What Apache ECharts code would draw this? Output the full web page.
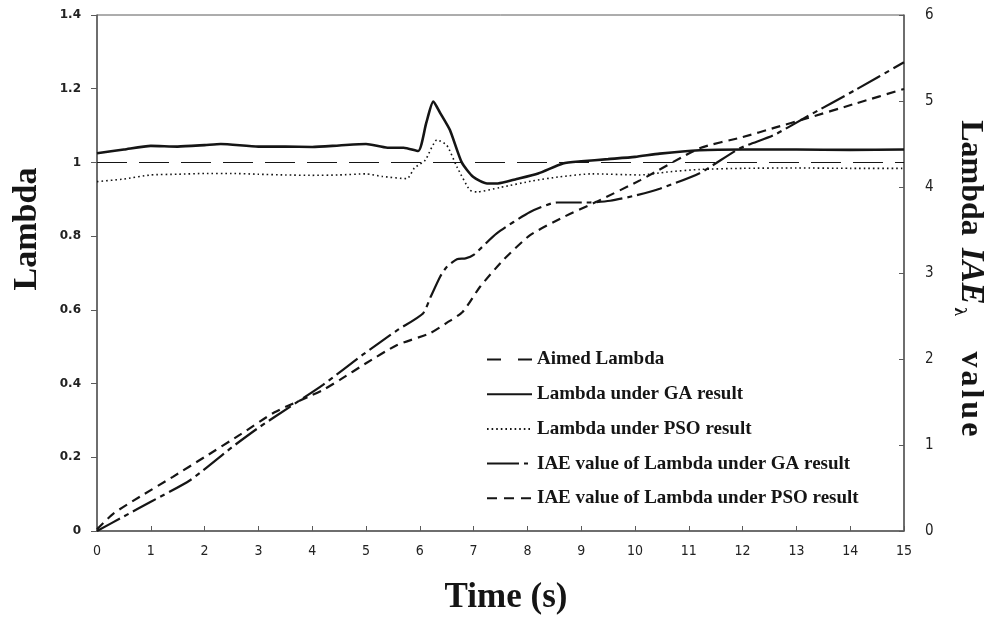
<!DOCTYPE html>
<html><head><meta charset="utf-8">
<script src="https://cdn.jsdelivr.net/npm/echarts@6/dist/echarts.min.js"></script>
<style>html,body{margin:0;padding:0;background:#fff}#c{width:996px;height:622px}</style>
</head><body><div id="c"></div>
<script>
// ---- data ----
var xTicks = [0,1,2,3,4,5,6,7,8,9,10,11,12,13,14,15];
var aimedT = [0, 15];
var aimedV = [1, 1];
var gaLamT = [0,0.5,1,1.5,2,2.3,3,3.5,4,4.5,5,5.4,5.7,5.97,6.12,6.25,6.38,6.56,6.78,6.99,7.25,7.45,7.8,8.2,8.66,9.0,9.5,10,10.46,11.2,12,13,14,15];
var gaLamV = [1.025,1.035,1.045,1.043,1.047,1.05,1.043,1.043,1.042,1.046,1.05,1.04,1.04,1.031,1.107,1.165,1.134,1.088,1.0,0.961,0.943,0.943,0.955,0.97,0.997,1.003,1.009,1.015,1.024,1.033,1.035,1.035,1.034,1.035];
var psoLamT = [0,0.5,1,1.5,2,2.5,3,3.5,4,4.5,5,5.3,5.76,5.9,6.1,6.32,6.5,6.69,6.93,7.06,7.49,8.1,8.6,9.2,10.1,10.6,11.2,12,13,14,15];
var psoLamV = [0.948,0.955,0.966,0.968,0.97,0.97,0.968,0.966,0.965,0.966,0.969,0.962,0.956,0.985,1.006,1.061,1.047,0.988,0.925,0.92,0.932,0.95,0.961,0.969,0.966,0.974,0.981,0.984,0.985,0.984,0.984];
var gaIaeT = [0,0.5,1,1.73,2.5,3.0,3.6,4.2,4.94,5.57,6.06,6.2,6.38,6.5,6.69,6.85,7.0,7.43,8.05,8.55,9.16,9.54,10.0,10.46,11.2,11.95,12.57,13.2,14.1,15];
var gaIaeV = [0,0.17,0.34,0.59,0.97,1.2,1.45,1.7,2.05,2.33,2.53,2.72,2.96,3.07,3.16,3.17,3.21,3.46,3.71,3.82,3.82,3.84,3.9,3.98,4.16,4.45,4.6,4.82,5.13,5.45];
var psoIaeT = [0,0.3,0.8,1.41,2.0,2.66,3.3,4.2,4.52,5.0,5.57,6.19,6.5,6.8,7.12,7.55,8.05,8.67,9.29,10.1,11.2,12.0,12.6,13.2,14.1,15];
var psoIaeV = [0.02,0.2,0.4,0.63,0.86,1.12,1.38,1.64,1.76,1.95,2.16,2.3,2.42,2.55,2.84,3.15,3.44,3.65,3.83,4.08,4.45,4.58,4.69,4.8,4.97,5.14];
var names = ['Aimed Lambda','Lambda under GA result','Lambda under PSO result','IAE value of Lambda under GA result','IAE value of Lambda under PSO result'];

function zip(t, v){ return t.map(function(x,i){ return [x, v[i]]; }); }

var chart = echarts.init(document.getElementById('c'));
var ink = '#151515';
var axisCol = '#5a5a5a';
var narrow = "'Liberation Sans Narrow','DejaVu Sans Condensed','Liberation Sans',sans-serif";
var serif = "'Liberation Serif','DejaVu Serif',serif";
var bigB = 'bold 32px ' + serif;
var bigI = 'italic bold 33px ' + serif;
chart.setOption({
  animation: false,
  backgroundColor: '#fff',
  grid: {left: 97, right: 92, top: 15, bottom: 91, show: true, borderColor: axisCol, borderWidth: 1},
  xAxis: {
    type: 'value', min: 0, max: 15, interval: 1,
    axisLine: {lineStyle: {color: axisCol, width: 1.5}},
    axisTick: {inside: true, length: 5, lineStyle: {color: axisCol}},
    axisLabel: {margin: 13, fontFamily: narrow, fontSize: 14, color: '#222'},
    splitLine: {show: false}
  },
  yAxis: [{
    type: 'value', min: 0, max: 1.4, interval: 0.2,
    axisLine: {show: true, lineStyle: {color: axisCol, width: 1.5}},
    axisTick: {show: true, length: 6, lineStyle: {color: axisCol}},
    axisLabel: {margin: 16, fontFamily: "'DejaVu Sans',sans-serif", fontSize: 12, fontWeight: 'bold', color: '#222',
      formatter: function(v){ return String(Math.round(v*10)/10); }},
    splitLine: {show: false}
  },{
    type: 'value', min: 0, max: 6, interval: 1, position: 'right',
    axisLine: {show: true, lineStyle: {color: axisCol, width: 1.5}},
    axisTick: {show: true, inside: true, length: 5, lineStyle: {color: axisCol}},
    axisLabel: {margin: 21, fontFamily: narrow, fontSize: 15, color: '#222'},
    splitLine: {show: false}
  }],
  legend: {
    orient: 'vertical', left: 486, top: 350, padding: 0, itemWidth: 45, itemHeight: 14, itemGap: 15.7,
    itemStyle: {opacity: 0, color: 'transparent', borderWidth: 0},
    textStyle: {fontFamily: serif, fontWeight: 'bold', fontSize: 19, color: ink},
    data: [
      {name: names[0], lineStyle: {type: [14, 17]}},
      {name: names[1]},
      {name: names[2]},
      {name: names[3], lineStyle: {type: [32, 5, 4, 5]}},
      {name: names[4], lineStyle: {type: [10, 7]}}
    ]
  },
  series: [
    {name: names[0], type: 'line', data: zip(aimedT, aimedV), showSymbol: false, symbol: 'none',
     lineStyle: {color: ink, width: 1.1, type: [30, 12]}, itemStyle: {color: ink}},
    {name: names[1], type: 'line', data: zip(gaLamT, gaLamV), showSymbol: false, symbol: 'none', smooth: 0.2,
     lineStyle: {color: ink, width: 2.6}, itemStyle: {color: ink}},
    {name: names[2], type: 'line', data: zip(psoLamT, psoLamV), showSymbol: false, symbol: 'none', smooth: 0.2,
     lineStyle: {color: ink, width: 1.6, type: [1.6, 3]}, itemStyle: {color: ink}},
    {name: names[3], type: 'line', yAxisIndex: 1, data: zip(gaIaeT, gaIaeV), showSymbol: false, symbol: 'none', smooth: 0.2,
     lineStyle: {color: ink, width: 2.2, type: [26, 5, 5, 5]}, itemStyle: {color: ink}},
    {name: names[4], type: 'line', yAxisIndex: 1, data: zip(psoIaeT, psoIaeV), showSymbol: false, symbol: 'none', smooth: 0.2,
     lineStyle: {color: ink, width: 2.2, type: [9, 6]}, itemStyle: {color: ink}}
  ],
  graphic: [
    {type: 'text', x: 506, y: 598, style: {text: 'Time (s)', font: 'bold 35px ' + serif, fill: ink, textAlign: 'center', textVerticalAlign: 'middle'}},
    {type: 'text', x: 27, y: 229, rotation: Math.PI/2, style: {text: 'Lambda', font: 'bold 34px ' + serif, fill: ink, textAlign: 'center', textVerticalAlign: 'middle'}},
    {type: 'text', x: 971, y: 279, rotation: -Math.PI/2,
     style: {text: '{a|Lambda }{b|IAE}{c|λ}{v|v}{v|a}{v|l}{v|u}{v|e}', fill: ink, textAlign: 'center', textVerticalAlign: 'middle',
       rich: {
         a: {font: bigB, fill: ink, verticalAlign: 'bottom', padding: [0, 4, 0, 0]},
         b: {font: bigI, fill: ink, verticalAlign: 'bottom', padding: [0, 3, 0, 0]},
         c: {font: 'bold 17px ' + serif, fill: ink, verticalAlign: 'bottom', padding: [0, 34, -4, 0]},
         v: {font: bigB, fill: ink, verticalAlign: 'bottom', padding: [0, 1.5, 0, 1.5]}
       }}}
  ]
});
</script>
</body></html>
